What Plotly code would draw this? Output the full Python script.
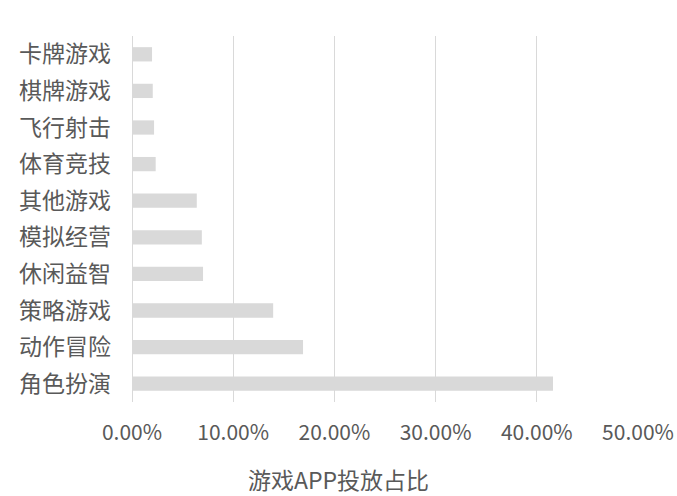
import plotly.graph_objects as go

categories = ["角色扮演", "动作冒险", "策略游戏", "休闲益智", "模拟经营",
              "其他游戏", "体育竞技", "飞行射击", "棋牌游戏", "卡牌游戏"]
values = [0.416, 0.169, 0.1395, 0.0702, 0.069, 0.064, 0.0234, 0.0218, 0.0205, 0.0198]
x_ticks = [0, 0.1, 0.2, 0.3, 0.4, 0.5]
axis_title = "游戏APP投放占比"

FONT = "Noto Sans CJK SC"
fig = go.Figure(go.Bar(
    y=categories, x=values, orientation="h",
    marker=dict(color="#d9d9d9", line=dict(width=0)),
    hoverinfo="x+y",
))
fig.update_layout(
    width=677, height=496,
    margin=dict(l=132, r=39, t=36, b=94, autoexpand=False),
    paper_bgcolor="white", plot_bgcolor="white",
    bargap=0.61,
    showlegend=False,
    font=dict(family=FONT, color="#595959", size=20),
    title=dict(text=axis_title, xref="container", yref="container",
               x=0.5, y=(496 - 481) / 496, xanchor="center", yanchor="middle",
               font=dict(family=FONT, size=23, color="#595959")),
    xaxis=dict(range=[0, 0.5], tickvals=x_ticks, tickformat=".2%",
               showgrid=True, gridcolor="#d9d9d9", gridwidth=1.3,
               zeroline=True, zerolinecolor="#d9d9d9", zerolinewidth=1.3,
               showline=False, ticks="", automargin=False,
               ticklabelstandoff=16,
               tickfont=dict(family=FONT, size=21, color="#595959")),
    yaxis=dict(showgrid=False, zeroline=False, showline=False, ticks="",
               automargin=False,
               ticklabelstandoff=20,
               tickfont=dict(family=FONT, size=23, color="#595959")),
)
fig.write_html("out.html")
